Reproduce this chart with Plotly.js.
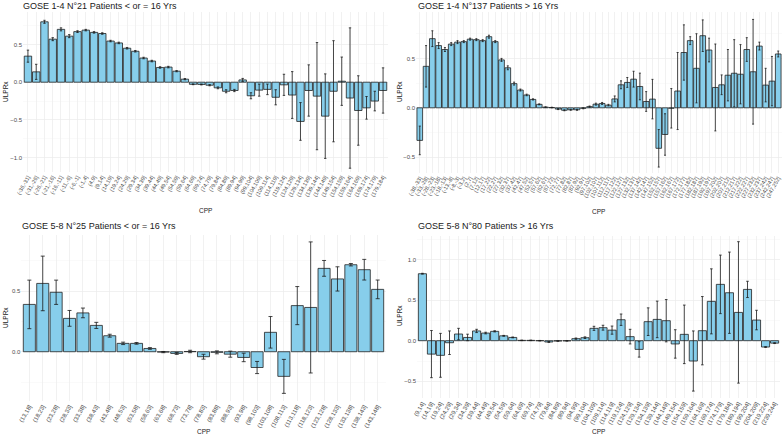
<!DOCTYPE html>
<html>
<head>
<meta charset="utf-8">
<script src="https://cdn.plot.ly/plotly-3.0.1.min.js"></script>
<style>
  html, body { margin: 0; padding: 0; background: #fff; }
  #plot { width: 783px; height: 436px; }
</style>
</head>
<body>
<div id="plot"></div>
<script>
// GOSE 1-4, <= 16 yrs
const cats1 = ["(-36,-31]","(-31,-26]","(-26,-21]","(-21,-16]","(-16,-11]","(-11,-6]","(-6,-1]","(-1,4]","(4,9]","(9,14]","(14,19]","(19,24]","(24,29]","(29,34]","(34,39]","(39,44]","(44,49]","(49,54]","(54,59]","(59,64]","(64,69]","(69,74]","(74,79]","(79,84]","(84,89]","(89,94]","(94,99]","(99,104]","(104,109]","(109,114]","(114,119]","(119,124]","(124,129]","(129,134]","(134,139]","(139,144]","(144,149]","(149,154]","(154,159]","(159,164]","(164,169]","(169,174]","(174,179]","(179,184]"];
const vals1 = [0.345,0.137,0.80,0.57,0.70,0.61,0.67,0.69,0.66,0.645,0.545,0.52,0.45,0.41,0.32,0.28,0.195,0.20,0.146,0.04,-0.028,-0.03,-0.04,-0.075,-0.12,-0.11,0.03,-0.18,-0.105,-0.095,-0.2,-0.035,-0.17,-0.52,-0.11,-0.185,-0.45,-0.12,0.013,-0.21,-0.375,-0.34,-0.25,-0.11];
const errs1 = [0.08,0.1,0.02,0.02,0.02,0.02,0.012,0.01,0.01,0.01,0.01,0.01,0.01,0.01,0.01,0.01,0.01,0.01,0.008,0.008,0.005,0.006,0.008,0.012,0.02,0.015,0.02,0.04,0.08,0.07,0.1,0.14,0.31,0.25,0.34,0.71,0.56,0.67,0.32,0.93,0.46,0.15,0.13,0.3];

// GOSE 1-4, > 16 yrs
const cats2 = ["(-38,-33]","(-33,-28]","(-28,-23]","(-23,-18]","(-18,-13]","(-13,-8]","(-8,-3]","(-3,2]","(2,7]","(7,12]","(12,17]","(17,22]","(22,27]","(27,32]","(32,37]","(37,42]","(42,47]","(47,52]","(52,57]","(57,62]","(62,67]","(67,72]","(72,77]","(77,82]","(82,87]","(87,92]","(92,97]","(97,102]","(102,107]","(107,112]","(112,117]","(117,122]","(122,127]","(127,132]","(132,137]","(137,142]","(142,147]","(147,152]","(152,157]","(157,162]","(162,167]","(167,172]","(172,177]","(177,182]","(182,187]","(187,192]","(192,197]","(197,202]","(202,207]","(207,212]","(212,217]","(217,222]","(222,227]","(227,232]","(232,237]","(237,242]","(242,247]","(247,252]"];
const vals2 = [-0.33,0.42,0.70,0.63,0.59,0.645,0.665,0.67,0.695,0.69,0.68,0.72,0.67,0.485,0.405,0.245,0.18,0.13,0.085,0.035,0.007,0.003,-0.013,-0.025,-0.02,-0.02,-0.005,0.012,0.037,0.044,0.027,0.09,0.233,0.257,0.29,0.216,0.064,0.088,-0.41,-0.27,-0.005,0.17,0.56,0.68,0.40,0.73,0.585,0.206,0.233,0.33,0.35,0.34,0.59,0.365,0.625,0.23,0.27,0.545];
const errs2 = [0.145,0.21,0.08,0.03,0.02,0.015,0.015,0.01,0.01,0.01,0.01,0.015,0.01,0.015,0.02,0.015,0.01,0.008,0.006,0.005,0.003,0.003,0.005,0.005,0.005,0.005,0.005,0.006,0.01,0.01,0.008,0.03,0.04,0.05,0.08,0.135,0.1,0.2,0.19,0.21,0.2,0.39,0.28,0.04,0.35,0.16,0.12,0.44,0.1,0.26,0.34,0.3,0.12,0.53,0.04,0.17,0.25,0.03];

// GOSE 5-8, <= 16 yrs
const cats3 = ["(13,18]","(18,23]","(23,28]","(28,33]","(33,38]","(38,43]","(43,48]","(48,53]","(53,58]","(58,63]","(63,68]","(68,73]","(73,78]","(78,83]","(83,88]","(88,93]","(93,98]","(98,103]","(103,108]","(108,113]","(113,118]","(118,123]","(123,128]","(128,133]","(133,138]","(138,143]","(143,148]"];
const vals3 = [0.39,0.563,0.49,0.275,0.32,0.217,0.132,0.069,0.069,0.027,-0.003,-0.014,0.002,-0.041,-0.005,-0.02,-0.047,-0.13,0.16,-0.203,0.38,0.365,0.687,0.60,0.717,0.676,0.514];
const errs3 = [0.2,0.225,0.1,0.065,0.04,0.025,0.012,0.01,0.007,0.007,0.005,0.008,0.01,0.02,0.012,0.025,0.035,0.05,0.13,0.14,0.157,0.54,0.065,0.1,0.01,0.085,0.077];

// GOSE 5-8, > 16 yrs
const cats4 = ["(9,14]","(14,19]","(19,24]","(24,29]","(29,34]","(34,39]","(39,44]","(44,49]","(49,54]","(54,59]","(59,64]","(64,69]","(69,74]","(74,79]","(79,84]","(84,89]","(89,94]","(94,99]","(99,104]","(104,109]","(109,114]","(114,119]","(119,124]","(124,129]","(129,134]","(134,139]","(139,144]","(144,149]","(149,154]","(154,159]","(159,164]","(164,169]","(169,174]","(174,179]","(179,184]","(189,194]","(199,204]","(204,209]","(219,224]","(239,244]"];
const vals4 = [0.824,-0.165,-0.18,-0.025,0.082,0.04,0.12,0.094,0.115,0.06,0.04,0.004,0.004,0.0,-0.016,-0.004,-0.002,0.025,0.037,0.152,0.16,0.13,0.258,0.05,-0.107,0.234,0.262,0.246,-0.04,0.078,-0.25,0.123,0.484,0.693,0.59,0.348,0.631,0.254,-0.078,-0.03];
const errs4 = [0.005,0.29,0.27,0.145,0.07,0.04,0.02,0.01,0.007,0.005,0.005,0.003,0.003,0.003,0.005,0.003,0.003,0.008,0.01,0.025,0.03,0.05,0.07,0.09,0.095,0.17,0.225,0.26,0.175,0.36,0.37,0.42,0.4,0.36,0.5,0.87,0.1,0.12,0.005,0.005];

const titles = [
  "GOSE 1-4 N°21 Patients < or = 16 Yrs",
  "GOSE 1-4 N°137 Patients > 16 Yrs",
  "GOSE 5-8 N°25 Patients < or = 16 Yrs",
  "GOSE 5-8 N°80 Patients > 16 Yrs"
];

const W = 783, H = 436;
const px = v => v / W;
const py = v => 1 - v / H;

function barTrace(cats, vals, errs, xa, ya, capw) {
  return {
    type: 'bar', x: cats, y: vals, xaxis: xa, yaxis: ya,
    marker: { color: '#87CEEB', line: { color: '#222222', width: 0.8 } },
    error_y: { type: 'data', array: errs, visible: true, color: '#1a1a1a', thickness: 0.8, width: capw },
    showlegend: false
  };
}

function xAxis(cats, dom, anchor, fs) {
  return {
    domain: dom, anchor: anchor, type: 'category',
    range: [-0.6, cats.length - 0.4],
    tickmode: 'array', tickvals: cats, ticktext: cats,
    tickangle: -60, tickfont: { family: 'Liberation Sans, Arial', size: fs, color: '#4d4d4d' },
    showgrid: true, gridcolor: '#ebebeb', gridwidth: 0.7,
    zeroline: false, showline: false, ticks: '', fixedrange: true
  };
}

function yAxis(range, dom, anchor) {
  return {
    domain: dom, anchor: anchor, range: range,
    tick0: 0, dtick: 0.5, tickformat: '.1f',
    tickfont: { family: 'Liberation Sans, Arial', size: 6, color: '#4d4d4d' },
    showgrid: true, gridcolor: '#ebebeb', gridwidth: 0.7,
    minor: { tick0: 0.25, dtick: 0.5, showgrid: true, gridcolor: '#f2f2f2', gridwidth: 0.4, ticks: '' },
    zeroline: false, showline: false, ticks: '', fixedrange: true
  };
}

const traces = [
  barTrace(cats1, vals1, errs1, 'x', 'y', 1.2),
  barTrace(cats2, vals2, errs2, 'x2', 'y2', 1.0),
  barTrace(cats3, vals3, errs3, 'x3', 'y3', 2.0),
  barTrace(cats4, vals4, errs4, 'x4', 'y4', 1.3)
];

const font = { family: 'Liberation Sans, Arial', color: '#1a1a1a' };
function ann(text, x, y, size, extra) {
  return Object.assign({ text: text, x: px(x), y: py(y), xref: 'paper', yref: 'paper',
    showarrow: false, xanchor: 'left', yanchor: 'middle',
    font: Object.assign({}, font, { size: size }) }, extra || {});
}

const annotations = [
  ann(titles[0], 21, 6, 9),
  ann(titles[1], 416, 6, 9),
  ann(titles[2], 20, 226, 9),
  ann(titles[3], 416, 226, 9),
  ann('ULPRx', 5, 92, 6.5, { textangle: -90, xanchor: 'center' }),
  ann('ULPRx', 399, 92, 6.5, { textangle: -90, xanchor: 'center' }),
  ann('ULPRx', 5, 318, 6.5, { textangle: -90, xanchor: 'center' }),
  ann('ULPRx', 399, 316, 6.5, { textangle: -90, xanchor: 'center' }),
  ann('CPP', 205, 210, 6.5, { xanchor: 'center' }),
  ann('CPP', 598, 211, 6.5, { xanchor: 'center' }),
  ann('CPP', 203, 431, 6.5, { xanchor: 'center' }),
  ann('CPP', 598, 431, 6.5, { xanchor: 'center' })
];

const layout = {
  width: W, height: H,
  margin: { l: 0, r: 0, t: 0, b: 0 },
  paper_bgcolor: '#fff', plot_bgcolor: '#fff',
  bargap: 0.1, showlegend: false,
  font: font,
  xaxis: xAxis(cats1, [px(23), px(388)], 'y', 5.5),
  yaxis: yAxis([-1.19, 0.93], [py(172), py(12)], 'x'),
  xaxis2: xAxis(cats2, [px(416), px(782)], 'y2', 5.5),
  yaxis2: yAxis([-0.66, 0.97], [py(173), py(12)], 'x2'),
  xaxis3: xAxis(cats3, [px(21.3), px(385.7)], 'y3', 6),
  yaxis3: yAxis([-0.406, 0.962], [py(401), py(235)], 'x3'),
  xaxis4: xAxis(cats4, [px(417), px(780)], 'y4', 6),
  yaxis4: yAxis([-0.705, 1.288], [py(398), py(236)], 'x4'),
  annotations: annotations
};

Plotly.newPlot('plot', traces, layout, { displayModeBar: false, staticPlot: true });
</script>
</body>
</html>
